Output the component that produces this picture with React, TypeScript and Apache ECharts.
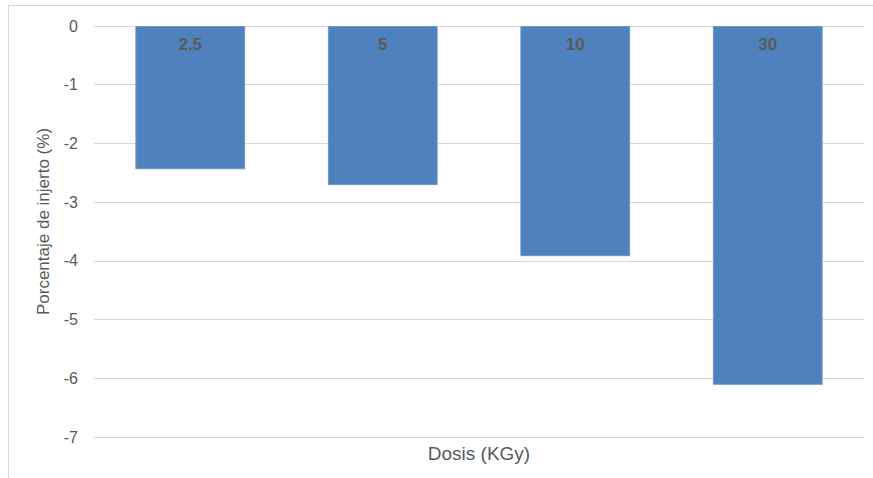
import React, { useEffect, useRef } from "react";
import * as echarts from "echarts";

const categories = ["2.5", "5", "10", "30"];
const values = [-2.44, -2.71, -3.92, -6.11];
const yTicks = { min: -7, max: 0, interval: 1 };

export default function App() {
  const ref = useRef<HTMLDivElement>(null);
  useEffect(() => {
    const chart = echarts.init(ref.current!, null, { renderer: "svg" });
    const font = "'Liberation Sans', Arial, sans-serif";
    chart.setOption({
      animation: false,
      backgroundColor: "#ffffff",
      textStyle: { fontFamily: font },
      grid: { left: 94, right: 9, top: 26, bottom: 41, containLabel: false },
      xAxis: {
        type: "category",
        data: categories,
        position: "bottom",
        axisLine: { onZero: false, show: true, lineStyle: { color: "#d9d9d9" } },
        axisTick: { show: false },
        axisLabel: { show: false },
        name: "Dosis (KGy)",
        nameLocation: "middle",
        nameGap: 7,
        nameTextStyle: { color: "#595959", fontSize: 19, fontFamily: font, verticalAlign: "top" },
      },
      yAxis: {
        type: "value",
        min: yTicks.min,
        max: yTicks.max,
        interval: yTicks.interval,
        axisLine: { show: false },
        axisTick: { show: false },
        axisLabel: { color: "#595959", fontSize: 16, margin: 16, fontFamily: font },
        splitLine: { lineStyle: { color: "#d9d9d9", width: 1 } },
        name: "Porcentaje de injerto (%)",
        nameLocation: "middle",
        nameGap: 42,
        nameRotate: 90,
        nameTextStyle: { color: "#595959", fontSize: 17, fontFamily: font, padding: [0, 0, 0, 20] },
      },
      series: [
        {
          type: "bar",
          data: values,
          barWidth: "57%",
          itemStyle: { color: "#4f81bd", borderColor: "#6b95c8", borderWidth: 1 },
          label: {
            show: true,
            position: "insideTop",
            distance: 10,
            formatter: "{b}",
            color: "#595959",
            fontWeight: "bold",
            fontSize: 17,
            fontFamily: font,
          },
        },
      ],
      graphic: [
        { type: "line", shape: { x1: 8, y1: 5.5, x2: 873, y2: 5.5 }, style: { stroke: "#d9d9d9", lineWidth: 1 } },
        { type: "line", shape: { x1: 8.5, y1: 5, x2: 8.5, y2: 478 }, style: { stroke: "#d9d9d9", lineWidth: 1 } },
      ],
    });
    return () => chart.dispose();
  }, []);
  return (
    <div
      ref={ref}
      style={{ position: "absolute", left: 0, top: 0, width: 873, height: 478 }}
    />
  );
}
